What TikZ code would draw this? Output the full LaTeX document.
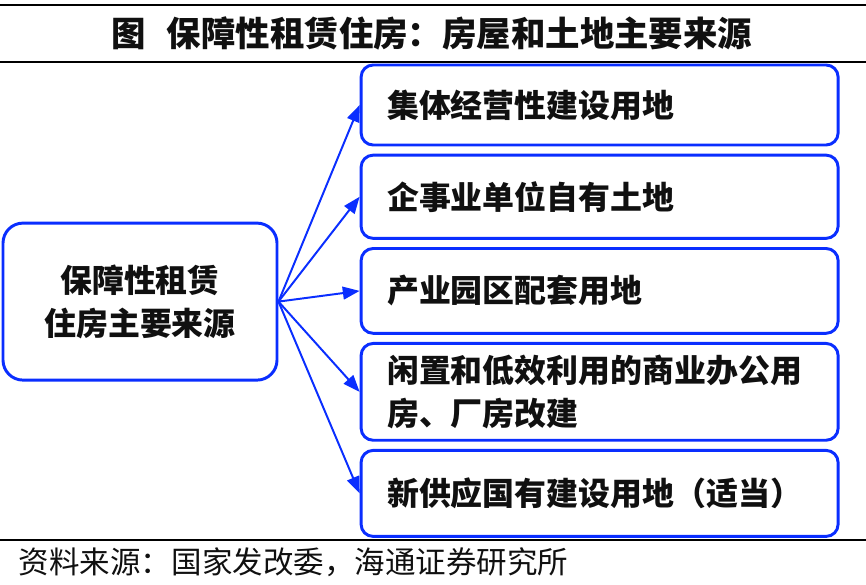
\documentclass[tikz,border=0pt]{standalone}
\usepackage{fontspec}
\setmainfont{Noto Sans CJK SC}
\usetikzlibrary{positioning,arrows.meta}
\definecolor{boxBlue}{HTML}{0A2EFF}
\definecolor{inkBlack}{HTML}{101010}
\tikzset{
    srcbox/.style={draw=boxBlue,fill=white,rounded corners=0.5cm,line width=2.1pt,
        minimum width=6.85cm,minimum height=3.925cm,align=center,
        font=\fontsize{22.7pt}{30.5pt}\selectfont\bfseries,text=inkBlack},
    landbox/.style={draw=boxBlue,fill=white,rounded corners=0.3cm,line width=2.1pt,
        text width=10.625cm,minimum height=2.1cm,inner xsep=0.65cm,align=left,
        font=\fontsize{22.7pt}{30.5pt}\selectfont\bfseries,text=inkBlack},
    arrow/.style={-{Triangle[length=0.42cm,width=0.32cm]},draw=boxBlue,line width=1.4pt},
    rule/.style={draw=black,line width=1.8pt}
}
\begin{document}
\begin{tikzpicture}[node distance=0.18cm and 0.18cm]
    \useasboundingbox (0,0) rectangle (21.65,14.6);
    % title and rules
    \node[font=\fontsize{24.5pt}{28pt}\selectfont\bfseries,text=inkBlack] (title) at (10.8,13.775)
        {图\hspace{0.6em}保障性租赁住房：房屋和土地主要来源};
    \draw[rule] (0,14.475) -- (21.65,14.475);
    \draw[rule] (0,13.05) -- (21.65,13.05);
    \draw[rule] (0,1.1) -- (21.65,1.1);
    % source
    \node[srcbox] (src) at (3.5,7.06) {保障性租赁\\住房主要来源};
    % land sources
    \node[landbox,minimum height=2.0cm] (l1) at (14.99,11.975) {集体经营性建设用地};
    \node[landbox,minimum height=2.08cm] (l2) [below=of l1] {企事业单位自有土地};
    \node[landbox,minimum height=2.12cm] (l3) [below=of l2] {产业园区配套用地};
    \node[landbox,minimum height=2.42cm] (l4) [below=of l3] {闲置和低效利用的商业办公用\\房、厂房改建};
    \node[landbox,minimum height=2.15cm] (l5) [below=of l4] {新供应国有建设用地（适当）};
    \foreach \n in {l1,l2,l3,l4,l5}
        \draw[arrow] (src.east) -- (\n.west);
    % footer
    \node[anchor=west,font=\fontsize{21.7pt}{26pt}\selectfont,text=inkBlack] (note) at (0.35,0.55)
        {资料来源：国家发改委，海通证券研究所};
\end{tikzpicture}
\end{document}
